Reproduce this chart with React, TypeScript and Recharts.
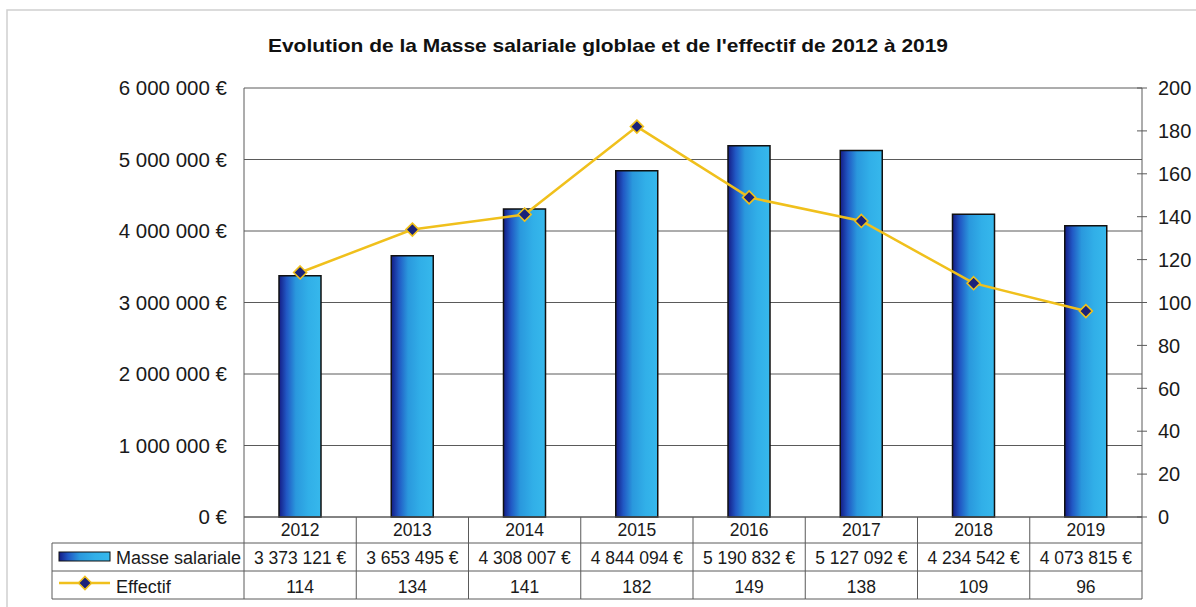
import React from 'react';
import { ComposedChart, Bar, Line, XAxis, YAxis, CartesianGrid } from 'recharts';

const years = ['2012', '2013', '2014', '2015', '2016', '2017', '2018', '2019'];
const masseSalariale = [3373121, 3653495, 4308007, 4844094, 5190832, 5127092, 4234542, 4073815];
const effectif = [114, 134, 141, 182, 149, 138, 109, 96];
const leftTicks = [0, 1000000, 2000000, 3000000, 4000000, 5000000, 6000000];
const rightTicks = [0, 20, 40, 60, 80, 100, 120, 140, 160, 180, 200];
const title = "Evolution de la Masse salariale globlae et de l'effectif de 2012 à 2019";
const seriesNames = ['Masse salariale', 'Effectif'];

const data = years.map((y, i) => ({ year: y, masse: masseSalariale[i], effectif: effectif[i] }));

const W = 1196;
const H = 607;
const PLOT_LEFT = 244;
const PLOT_RIGHT = 1142;
const PLOT_TOP = 88;
const PLOT_BOTTOM = 517;
const LEFT_AXIS_W = 160;
const RIGHT_AXIS_W = 50;
const X_AXIS_H = 85;
const LEGEND_LEFT = 52;
const CELL = (PLOT_RIGHT - PLOT_LEFT) / years.length;

const GRID = '#5a5a5a';
const YELLOW = '#f0c01c';
const NAVY = '#1b237a';
const FONT = '"Liberation Sans", Arial, sans-serif';

const fmt = (n: number) => String(n).replace(/\B(?=(\d{3})+(?!\d))/g, ' ');

const Diamond = (props: any) => {
  const { cx, cy } = props;
  if (cx == null || cy == null) return null;
  const s = 6.5;
  return (
    <polygon
      points={`${cx},${cy - s} ${cx + s},${cy} ${cx},${cy + s} ${cx - s},${cy}`}
      fill={NAVY}
      stroke={YELLOW}
      strokeWidth={1.6}
    />
  );
};

const LeftTick = (props: any) => {
  const { y, payload } = props;
  return (
    <text x={PLOT_LEFT - 17} y={y} dy="0.36em" textAnchor="end" fontSize={20.5} fontFamily={FONT} fill="#1a1a1a">
      {payload.value === 0 ? '0 €' : `${fmt(payload.value)} €`}
    </text>
  );
};

const RightTick = (props: any) => {
  const { y, payload } = props;
  return (
    <g>
      <line x1={PLOT_RIGHT - 5} x2={PLOT_RIGHT + 5} y1={y} y2={y} stroke={GRID} strokeWidth={1} />
      <text x={PLOT_RIGHT + 16} y={y} dy="0.36em" textAnchor="start" fontSize={20} fontFamily={FONT} fill="#1a1a1a">
        {payload.value}
      </text>
    </g>
  );
};

const TableTick = (props: any) => {
  const { x, y, payload } = props;
  const i = years.indexOf(String(payload.value));
  const l = x - CELL / 2;
  const r = x + CELL / 2;
  const rowA = y + 26;
  const rowB = y + 54;
  const rowC = y + 82;
  const textProps = { fontSize: 17.5, fontFamily: FONT, fill: '#1a1a1a', textAnchor: 'middle' as const };
  return (
    <g>
      <line x1={l} x2={l} y1={y} y2={rowC} stroke={GRID} strokeWidth={1} />
      {i === years.length - 1 && <line x1={r} x2={r} y1={y} y2={rowC} stroke={GRID} strokeWidth={1} />}
      <line x1={l} x2={r} y1={rowA} y2={rowA} stroke={GRID} strokeWidth={1} />
      <line x1={l} x2={r} y1={rowB} y2={rowB} stroke={GRID} strokeWidth={1} />
      <line x1={l} x2={r} y1={rowC} y2={rowC} stroke={GRID} strokeWidth={1} />
      <text x={x} y={y + 19} {...textProps}>{payload.value}</text>
      <text x={x} y={y + 47} {...textProps}>{`${fmt(masseSalariale[i])} €`}</text>
      <text x={x} y={y + 76} {...textProps}>{effectif[i]}</text>
      {i === 0 && (
        <g>
          <line x1={LEGEND_LEFT} x2={l} y1={rowA} y2={rowA} stroke={GRID} strokeWidth={1} />
          <line x1={LEGEND_LEFT} x2={l} y1={rowB} y2={rowB} stroke={GRID} strokeWidth={1} />
          <line x1={LEGEND_LEFT} x2={l} y1={rowC} y2={rowC} stroke={GRID} strokeWidth={1} />
          <line x1={LEGEND_LEFT} x2={LEGEND_LEFT} y1={rowA} y2={rowC} stroke={GRID} strokeWidth={1} />
          <rect x={LEGEND_LEFT + 7} y={rowA + 9} width={51} height={9} fill="url(#barGrad)" stroke="#111" strokeWidth={1} />
          <text x={LEGEND_LEFT + 64} y={y + 47} fontSize={18} fontFamily={FONT} fill="#1a1a1a">{seriesNames[0]}</text>
          <line x1={LEGEND_LEFT + 7} x2={LEGEND_LEFT + 58} y1={rowB + 12} y2={rowB + 12} stroke={YELLOW} strokeWidth={2.5} />
          <Diamond cx={LEGEND_LEFT + 33} cy={rowB + 12} />
          <text x={LEGEND_LEFT + 64} y={y + 76} fontSize={18} fontFamily={FONT} fill="#1a1a1a">{seriesNames[1]}</text>
        </g>
      )}
    </g>
  );
};

export default function App() {
  return (
    <div style={{ position: 'absolute', left: 0, top: 0, width: W, height: H, background: '#fff' }}>
      <svg width={W} height={H} style={{ position: 'absolute', left: 0, top: 0 }}>
        <defs>
          <linearGradient id="barGrad" x1="0" y1="0" x2="1" y2="0">
            <stop offset="0%" stopColor="#141c85" />
            <stop offset="18%" stopColor="#2158c4" />
            <stop offset="40%" stopColor="#2a98dd" />
            <stop offset="70%" stopColor="#31afe8" />
            <stop offset="100%" stopColor="#36b8ec" />
          </linearGradient>
        </defs>
        <rect x={7} y={10} width={W} height={H} fill="none" stroke="#cfcfcf" strokeWidth={1.5} />
        <text
          x={608}
          y={52}
          textAnchor="middle"
          fontSize={18.5}
          fontWeight="bold"
          fontFamily={FONT}
          fill="#111"
          textLength={680}
          lengthAdjust="spacingAndGlyphs"
        >
          {title}
        </text>
      </svg>
      <div style={{ position: 'absolute', left: 0, top: 0 }}>
        <ComposedChart
          width={W}
          height={H}
          data={data}
          barCategoryGap={0}
          margin={{
            top: PLOT_TOP,
            bottom: H - PLOT_BOTTOM - X_AXIS_H,
            left: PLOT_LEFT - LEFT_AXIS_W,
            right: W - PLOT_RIGHT - RIGHT_AXIS_W,
          }}
        >
          <CartesianGrid horizontal vertical={false} stroke={GRID} strokeWidth={1} yAxisId="left" />
          <XAxis
            dataKey="year"
            height={X_AXIS_H}
            tickSize={0}
            tickMargin={0}
            tickLine={false}
            axisLine={{ stroke: GRID, strokeWidth: 1 }}
            tick={<TableTick />}
            interval={0}
          />
          <YAxis
            yAxisId="left"
            orientation="left"
            width={LEFT_AXIS_W}
            domain={[0, 6000000]}
            ticks={leftTicks}
            tickSize={0}
            tickMargin={0}
            tickLine={false}
            axisLine={{ stroke: GRID, strokeWidth: 1 }}
            tick={<LeftTick />}
            interval={0}
          />
          <YAxis
            yAxisId="right"
            orientation="right"
            width={RIGHT_AXIS_W}
            domain={[0, 200]}
            ticks={rightTicks}
            tickSize={0}
            tickMargin={0}
            tickLine={false}
            axisLine={{ stroke: GRID, strokeWidth: 1 }}
            tick={<RightTick />}
            interval={0}
          />
          <Bar
            yAxisId="left"
            dataKey="masse"
            name={seriesNames[0]}
            barSize={42}
            fill="url(#barGrad)"
            stroke="#111"
            strokeWidth={1.5}
            isAnimationActive={false}
          />
          <Line
            yAxisId="right"
            dataKey="effectif"
            name={seriesNames[1]}
            stroke={YELLOW}
            strokeWidth={2.5}
            dot={<Diamond />}
            activeDot={false}
            isAnimationActive={false}
          />
        </ComposedChart>
      </div>
    </div>
  );
}
